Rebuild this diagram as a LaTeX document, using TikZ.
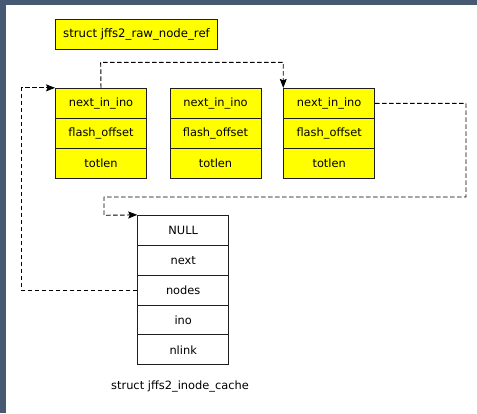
\documentclass[tikz,border=0pt]{standalone}
\usepackage{fontspec}
\setmainfont{DejaVu Sans}
\usetikzlibrary{arrows.meta}
\definecolor{band}{RGB}{72,89,116}
\definecolor{fieldyellow}{RGB}{255,255,0}
\definecolor{edge}{RGB}{30,30,30}
\tikzset{
  field/.style={draw=edge, line width=0.9pt, fill=fieldyellow, minimum width=91pt, minimum height=30pt, inner sep=0pt, font=\fontsize{11.4}{13}\selectfont},
  ifield/.style={field, fill=white},
  titlebox/.style={field, minimum width=162.5pt, font=\fontsize{11.7}{13}\selectfont},
  conn/.style={draw=black, line width=0.95pt, dash pattern=on 4.5pt off 2.5pt, -{Stealth[length=9pt,width=7pt,inset=1.5pt]}},
  capt/.style={font=\fontsize{11.4}{13}\selectfont, inner sep=0pt},
}
\begin{document}
\begin{tikzpicture}[x=1pt,y=-1pt]
\useasboundingbox (0,0) rectangle (477,413);
\fill[white] (0,0) rectangle (477,413);
\fill[band] (0,0) rectangle (477,4.7);
\fill[band] (0,0) rectangle (5.7,413);

\node[titlebox] (title) at (136.5,34.3) {struct jffs2\_raw\_node\_ref};

\node[field] (b1a) at (101,103.3) {next\_in\_ino};
\node[field] (b1b) at (101,133.3) {flash\_offset};
\node[field] (b1c) at (101,163.3) {totlen};

\node[field] (b2a) at (215.5,103.3) {next\_in\_ino};
\node[field] (b2b) at (215.5,133.3) {flash\_offset};
\node[field] (b2c) at (215.5,163.3) {totlen};

\node[field] (b3a) at (329.2,103.3) {next\_in\_ino};
\node[field] (b3b) at (329.2,133.3) {flash\_offset};
\node[field] (b3c) at (329.2,163.3) {totlen};

\node[ifield] (i1) at (183.2,230.3) {NULL};
\node[ifield] (i2) at (183.2,260.2) {next};
\node[ifield] (i3) at (183.2,290.1) {nodes};
\node[ifield] (i4) at (183.2,320.0) {ino};
\node[ifield] (i5) at (183.2,349.9) {nlink};

\node[capt] (cap) at (180,386.7) {struct jffs2\_inode\_cache};

\coordinate (t1) at (100.7,62.3);
\coordinate (r1) at (466,197);
\coordinate (r2) at (104,215.3);
\coordinate (l1) at (21.3,290.1);

\draw[conn] (b1a.north) -- (t1) -| (b3a.north west);
\draw[conn] (b3a.east) -| (r1) -| (r2) -- (i1.north west);
\draw[conn] (i3.west) -- (l1) |- (b1a.north west);
\end{tikzpicture}
\end{document}
